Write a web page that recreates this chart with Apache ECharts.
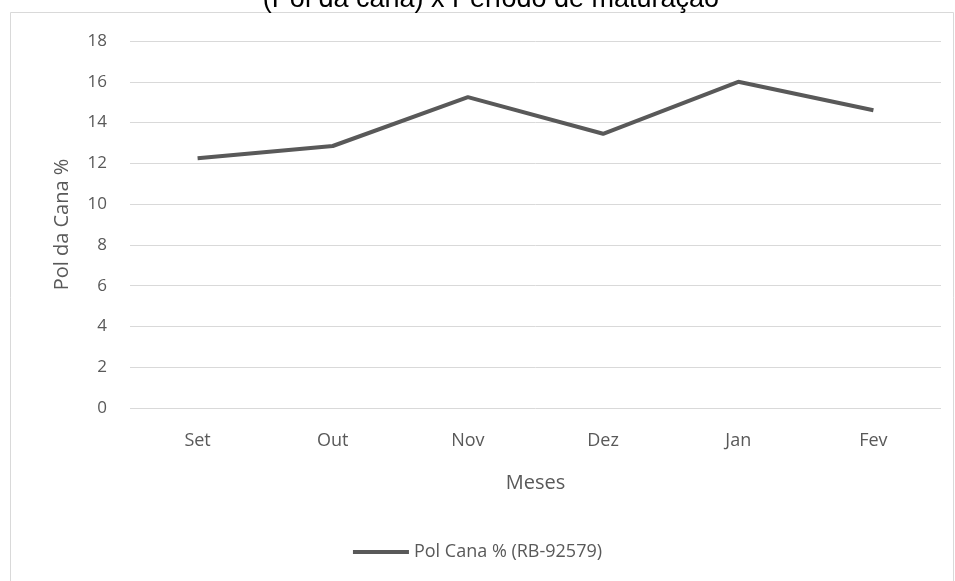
<!DOCTYPE html>
<html>
<head>
<meta charset="utf-8">
<script src="https://cdn.jsdelivr.net/npm/echarts@6/dist/echarts.min.js"></script>
<style>
  html, body { margin: 0; padding: 0; background: #fff; }
  #main { width: 955px; height: 581px; }
</style>
</head>
<body>
<div id="main"></div>
<script>
const meses = ['Set', 'Out', 'Nov', 'Dez', 'Jan', 'Fev']
const polCana = [12.25, 12.85, 15.25, 13.45, 16.0, 14.6]
const serieNome = 'Pol Cana % (RB-92579)'
const titulo = '(Pol da cana) x Período de maturação'

const chart = echarts.init(document.getElementById('main'))
const font = '"Open Sans", sans-serif'

chart.setOption({
    animation: false,
    backgroundColor: '#fff',
    graphic: [
        {
            type: 'rect',
            shape: { x: 10.5, y: 12.5, width: 943, height: 600 },
            style: { fill: 'none', stroke: '#d9d9d9', lineWidth: 1 },
            silent: true
        },
        {
            type: 'text',
            x: 491,
            y: 13,
            style: {
                text: titulo,
                font: '27px "Liberation Sans", Arial, sans-serif',
                fill: '#000',
                align: 'center',
                verticalAlign: 'bottom'
            }
        }
    ],
    grid: { left: 130, right: 14, top: 41, bottom: 173, containLabel: false },
    legend: {
        bottom: 15,
        left: 'center',
        itemWidth: 56,
        itemHeight: 4,
        itemGap: 4,
        icon: 'rect',
        textStyle: { color: '#595959', fontFamily: font, fontSize: 18 },
        data: [serieNome]
    },
    xAxis: {
        type: 'category',
        data: meses,
        boundaryGap: true,
        name: 'Meses',
        nameLocation: 'middle',
        nameGap: 65,
        nameTextStyle: { color: '#595959', fontFamily: font, fontSize: 20 },
        axisLine: { show: false },
        axisTick: { show: false },
        axisLabel: { color: '#595959', fontFamily: font, fontSize: 18, margin: 24 }
    },
    yAxis: {
        type: 'value',
        min: 0,
        max: 18,
        interval: 2,
        name: 'Pol da Cana %',
        nameLocation: 'middle',
        nameGap: 58,
        nameTextStyle: { color: '#595959', fontFamily: font, fontSize: 20 },
        axisLine: { show: false },
        axisTick: { show: false },
        axisLabel: { color: '#595959', fontFamily: font, fontSize: 17, margin: 23 },
        splitLine: { lineStyle: { color: '#d9d9d9', width: 1 } }
    },
    series: [{
        name: serieNome,
        type: 'line',
        data: polCana,
        symbol: 'none',
        lineStyle: { color: '#595959', width: 4 },
        itemStyle: { color: '#595959' }
    }]
})
</script>
</body>
</html>
